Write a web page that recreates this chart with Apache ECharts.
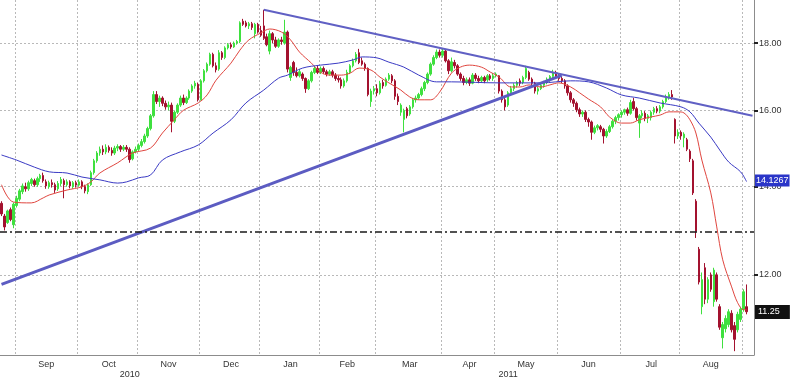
<!DOCTYPE html>
<html>
<head>
<meta charset="utf-8">
<script src="https://cdn.jsdelivr.net/npm/echarts@6/dist/echarts.min.js"></script>
<style>
html,body{margin:0;padding:0;background:#fff;}
#chart{width:790px;height:380px;}
</style>
</head>
<body>
<div id="chart"></div>
<script>
// ---- months on the x axis (trading-day buckets) ----
const monthNames = ['Aug','Sep','Oct','Nov','Dec','Jan','Feb','Mar','Apr','May','Jun','Jul','Aug','Sep'];
const monthYears = [2010,2010,2010,2010,2010,2011,2011,2011,2011,2011,2011,2011,2011,2011];
const monthCounts = [5,21,20,21,20,20,19,22,18,21,21,20,21,4];

// ---- daily OHLC ----
const opens = [13.60,13.30,13.15,13.45,13.10,13.55,13.70,13.88,14.00,13.95,14.08,14.15,14.05,14.20,14.28,14.12,14.00,14.10,14.05,13.95,
14.08,14.15,14.05,14.12,14.00,14.10,14.04,14.12,14.00,13.88,14.05,14.35,14.65,14.85,14.95,14.88,15.00,14.92,14.85,14.98,
15.02,14.95,15.00,14.95,14.70,14.88,14.95,15.05,15.15,15.30,15.50,15.85,16.45,16.25,16.35,16.20,16.10,16.15,15.70,15.95,
16.15,16.35,16.22,16.35,16.55,16.70,16.75,16.30,16.85,17.15,17.35,17.65,17.30,17.20,17.70,17.55,17.85,17.95,17.88,18.00,
18.05,18.70,18.65,18.55,18.62,18.30,18.60,18.40,18.55,18.20,17.75,18.30,18.10,17.90,18.10,18.00,18.35,16.95,17.40,17.10,
17.00,17.05,16.92,16.62,16.85,17.10,17.22,17.10,17.22,17.12,17.05,17.12,17.02,16.92,16.88,16.70,16.85,17.10,17.30,17.45,
17.70,17.45,17.35,17.22,16.25,16.55,16.62,16.50,16.80,16.72,16.90,17.00,16.85,16.40,15.95,15.75,16.05,15.90,16.10,16.30,
16.35,16.45,16.62,16.80,17.05,17.35,17.55,17.72,17.62,17.75,17.45,17.15,17.40,17.30,17.05,16.92,16.80,16.88,16.78,17.02,
16.92,16.85,16.95,16.88,17.00,16.92,17.00,17.00,16.55,16.30,16.15,16.50,16.62,16.72,16.85,16.80,16.95,17.10,16.90,16.78,
16.55,16.62,16.72,16.80,16.90,16.98,17.10,16.98,16.92,16.85,16.70,16.50,16.30,16.20,16.02,15.90,15.95,15.75,15.68,15.40,
15.52,15.55,15.48,15.30,15.42,15.55,15.70,15.80,15.88,15.95,16.02,15.92,16.25,16.05,15.65,15.85,15.92,15.78,15.80,15.95,
16.05,15.98,16.10,16.25,16.38,16.45,15.75,15.30,15.40,15.25,15.20,14.90,14.65,13.65,12.55,11.35,12.15,11.50,12.00,11.45,
12.00,11.35,10.75,10.92,11.00,11.22,10.98,10.90,11.10,11.30,11.35];
const closes = [13.35,13.05,13.42,13.22,13.58,13.72,13.90,14.02,13.95,14.10,14.18,14.05,14.20,14.28,14.15,14.02,14.10,14.05,13.92,14.08,
14.18,14.05,14.12,14.02,14.10,14.04,14.12,14.00,13.90,14.05,14.35,14.65,14.85,14.95,14.88,15.00,14.92,14.85,14.98,15.02,
14.95,15.00,14.95,14.68,14.88,14.95,15.05,15.15,15.30,15.50,15.85,16.45,16.25,16.35,16.20,16.10,16.15,15.70,15.95,16.15,
16.35,16.22,16.35,16.55,16.70,16.78,16.30,16.85,17.15,17.35,17.65,17.30,17.18,17.70,17.55,17.85,17.95,17.88,18.00,18.05,
18.65,18.60,18.55,18.62,18.50,18.60,18.35,18.25,18.15,17.95,18.30,18.10,17.90,18.10,18.05,18.35,17.20,17.25,17.10,17.00,
17.12,16.92,16.62,16.85,17.10,17.22,17.10,17.22,17.12,17.05,17.12,17.02,16.92,16.88,16.70,16.85,17.10,17.30,17.45,17.65,
17.40,17.35,17.22,16.45,16.55,16.62,16.50,16.78,16.70,16.90,17.02,16.85,16.40,16.25,16.15,16.00,15.85,16.10,16.30,16.35,
16.45,16.62,16.80,17.05,17.35,17.55,17.72,17.62,17.75,17.45,17.15,17.42,17.30,17.05,16.92,16.80,16.88,16.78,17.02,16.92,
16.85,16.95,16.85,17.00,16.92,17.00,17.05,16.55,16.30,16.10,16.50,16.62,16.72,16.80,16.78,16.95,17.22,16.90,16.78,16.55,
16.62,16.72,16.80,16.90,16.98,17.10,16.98,16.92,16.85,16.70,16.50,16.30,16.20,16.02,15.90,15.95,15.75,15.68,15.40,15.52,
15.58,15.48,15.30,15.42,15.55,15.70,15.80,15.88,15.95,16.02,15.92,16.22,16.05,15.80,15.85,15.92,15.78,15.85,15.95,16.05,
15.98,16.10,16.25,16.38,16.45,16.38,15.30,15.40,15.30,15.35,14.95,14.70,13.85,12.95,11.85,11.90,11.50,11.90,11.70,12.10,
11.50,10.95,11.00,11.12,11.25,10.90,10.72,11.20,11.30,11.65,11.25];
const lows = [13.30,12.97,13.12,13.18,13.02,13.50,13.65,13.82,13.88,13.90,14.02,14.00,14.00,14.12,14.10,13.95,13.95,13.98,13.85,13.90,
14.02,13.72,14.00,13.96,13.95,13.98,14.00,13.94,13.84,13.82,14.02,14.30,14.60,14.78,14.80,14.82,14.86,14.78,14.80,14.90,
14.88,14.90,14.88,14.60,14.66,14.84,14.90,15.00,15.10,15.25,15.45,15.80,16.18,16.10,16.12,16.02,16.00,15.40,15.65,15.90,
16.10,16.15,16.18,16.30,16.50,16.62,16.25,16.28,16.80,17.10,17.30,17.25,17.10,17.15,17.48,17.50,17.80,17.82,17.85,17.95,
18.00,18.55,18.50,18.45,18.42,18.15,18.30,18.20,18.10,17.90,17.65,18.00,17.85,17.85,17.95,17.95,17.10,16.85,17.00,16.95,
16.95,16.85,16.50,16.58,16.80,17.05,17.05,17.05,17.05,16.98,17.00,16.95,16.85,16.80,16.62,16.65,16.80,17.05,17.25,17.40,
17.35,17.30,17.15,16.40,16.10,16.45,16.40,16.45,16.62,16.68,16.85,16.78,16.30,16.15,15.85,15.40,15.78,15.85,16.05,16.22,
16.30,16.40,16.55,16.75,17.00,17.30,17.50,17.55,17.55,17.40,17.05,17.10,17.22,17.00,16.85,16.72,16.75,16.70,16.75,16.85,
16.78,16.80,16.78,16.82,16.86,16.85,16.95,16.48,16.22,16.00,16.10,16.45,16.55,16.65,16.70,16.75,16.90,16.85,16.70,16.48,
16.45,16.58,16.65,16.75,16.82,16.92,16.92,16.85,16.78,16.62,16.42,16.22,16.10,15.95,15.82,15.82,15.68,15.55,15.20,15.35,
15.45,15.40,15.10,15.25,15.38,15.50,15.62,15.72,15.80,15.88,15.85,15.88,16.00,15.72,15.25,15.78,15.70,15.65,15.72,15.88,
15.92,15.92,16.05,16.20,16.30,16.30,15.10,15.22,15.20,15.00,14.90,14.62,13.80,12.80,11.80,11.20,11.40,11.42,11.65,11.35,
11.45,10.90,10.55,10.85,10.95,10.85,10.50,10.85,11.05,11.25,11.20];
const highs = [13.65,13.35,13.45,13.50,13.62,13.78,13.95,14.08,14.10,14.15,14.22,14.20,14.25,14.32,14.35,14.18,14.15,14.18,14.10,14.14,
14.24,14.20,14.18,14.16,14.14,14.15,14.18,14.16,14.05,14.08,14.40,14.70,14.90,15.02,15.05,15.08,15.05,15.00,15.04,15.08,
15.06,15.06,15.06,15.00,14.92,15.02,15.10,15.22,15.36,15.55,15.90,16.55,16.55,16.42,16.40,16.28,16.25,16.22,16.00,16.20,
16.42,16.45,16.40,16.60,16.75,16.85,16.80,16.90,17.20,17.40,17.70,17.70,17.40,17.78,17.75,17.90,18.00,18.02,18.05,18.10,
18.70,18.78,18.72,18.68,18.68,18.65,18.65,18.55,19.08,18.30,18.40,18.35,18.20,18.15,18.20,18.75,18.40,17.30,17.45,17.25,
17.20,17.10,16.95,16.90,17.15,17.28,17.30,17.28,17.28,17.18,17.18,17.18,17.08,17.00,16.95,16.92,17.18,17.35,17.52,17.72,
17.82,17.55,17.40,17.25,16.62,16.70,16.75,16.85,16.88,16.95,17.08,17.05,16.90,16.48,16.20,16.05,16.10,16.15,16.35,16.42,
16.50,16.68,16.85,17.10,17.40,17.62,17.80,17.80,17.82,17.80,17.50,17.55,17.48,17.35,17.10,17.00,16.95,16.95,17.08,17.08,
17.00,17.00,17.00,17.05,17.05,17.08,17.10,17.02,16.60,16.35,16.55,16.70,16.78,16.85,16.92,17.00,17.30,17.15,16.95,16.82,
16.68,16.78,16.85,16.95,17.02,17.18,17.15,17.05,16.98,16.90,16.75,16.55,16.35,16.25,16.08,16.00,16.00,15.80,15.72,15.58,
15.62,15.60,15.52,15.48,15.60,15.75,15.85,15.92,16.00,16.05,16.08,16.30,16.35,16.10,15.90,16.00,15.98,15.90,16.00,16.10,
16.12,16.15,16.30,16.45,16.52,16.58,15.78,15.48,15.45,15.40,15.25,14.95,14.70,13.70,12.60,12.05,12.25,11.95,12.05,12.15,
12.05,11.40,11.05,11.18,11.30,11.28,11.05,11.25,11.35,11.70,11.80];

// ---- moving averages (read at sampled days) ----
const redMAIdx = [0,4,10,14,16,22,27,30,33,39,44,50,54,58,61,66,69,72,77,80,83,87,90,94,97,100,104,107,110,114,117,120,124,127,130,134,137,140,144,147,151,154,157,161,164,167,171,174,177,181,184,187,191,194,197,201,204,208,211,214,218,221,224,227,229,231,233,235,238,240,242,245,247,249,250];
const redMAVal = [14.05,13.63,13.61,13.73,13.80,13.92,14.00,14.12,14.34,14.60,14.85,14.98,15.38,15.74,16.00,16.21,16.44,16.87,17.38,17.78,18.10,18.32,18.45,18.35,18.10,17.72,17.38,17.11,17.02,17.02,17.08,17.23,17.17,16.96,16.79,16.58,16.38,16.30,16.30,16.52,17.08,17.26,17.32,17.26,17.11,16.96,16.67,16.67,16.73,16.67,16.73,16.79,16.67,16.50,16.32,16.10,15.82,15.65,15.65,15.74,15.82,15.87,15.96,15.96,15.93,15.74,15.38,14.67,13.85,13.05,12.32,11.75,11.43,11.29,11.29];
const blueMAIdx = [0,5,11,16,22,27,33,39,42,46,50,54,60,66,71,77,82,88,93,96,101,107,113,118,121,126,130,135,140,146,151,167,181,191,197,203,208,214,221,228,231,234,238,241,244,248,250];
const blueMAVal = [14.80,14.67,14.49,14.37,14.34,14.24,14.17,14.09,14.12,14.22,14.29,14.67,14.88,15.06,15.38,15.74,16.21,16.58,16.93,17.02,17.23,17.32,17.38,17.48,17.57,17.54,17.41,17.26,17.02,16.82,16.82,16.79,16.79,16.85,16.82,16.64,16.44,16.35,16.21,16.10,15.96,15.65,15.27,14.93,14.62,14.37,14.1267];

// ---- drawn lines ----
const downTrendIdx = [88, 252];
const downTrendVal = [19.08, 15.85];
const upTrendIdx = [0, 188];
const upTrendVal = [11.80, 17.01];
const supportLevel = 12.95;

// ---- y axis ----
const yTicks = [12, 14, 16, 18];
const yMin = 10.43, yMax = 19.41;

// ---------- build ----------
const ln = Math.log;
const cats = [];
const monthStart = new Set();
const monthMid = new Set();
const yearStart = new Set();
const yearMid = new Set();
let k = 0;
monthNames.forEach((m, mi) => {
  const n = monthCounts[mi];
  if (mi > 0) monthStart.add(k);
  if (mi > 0 && mi < monthNames.length - 1) monthMid.add(k + Math.round((n - 1) / 2));
  for (let d = 0; d < n; d++) cats.push(m + '|' + monthYears[mi] + '|' + (d + 1));
  k += n;
});
const years = [...new Set(monthYears)];
years.forEach(y => {
  const first = cats.findIndex(c => c.split('|')[1] === String(y));
  let last = -1; cats.forEach((c, i) => { if (c.split('|')[1] === String(y)) last = i; });
  if (first > 0) yearStart.add(first);
  yearMid.add(Math.round((first + last) / 2));
});

const candleData = opens.map((o, i) => [ln(o), ln(closes[i]), ln(lows[i]), ln(highs[i])]);
const toLine = (idx, val) => idx.map((x, i) => [x, ln(val[i])]);

const FONT = 'Liberation Sans, Arial, sans-serif';
const gridLine = { show: true, lineStyle: { color: '#b9b9b9', type: [2, 2], width: 1 } };
const lastBlue = blueMAVal[blueMAVal.length - 1];
const lastClose = closes[closes.length - 1];

function tagLabel(text, bg, pad) {
  return {
    show: true, position: 'end', distance: 1,
    formatter: text,
    color: '#fff', backgroundColor: bg, padding: pad, fontSize: 9, fontFamily: FONT
  };
}

const chart = echarts.init(document.getElementById('chart'), null, { renderer: 'canvas' });
chart.setOption({
  animation: false,
  backgroundColor: '#fff',
  grid: { left: 0, right: 36, top: 0, bottom: 25 },
  xAxis: [
    {
      type: 'category', data: cats, boundaryGap: true,
      axisLine: { lineStyle: { color: '#8c8c8c' } },
      axisTick: { interval: (i) => monthStart.has(i), length: 3, lineStyle: { color: '#555' } },
      axisLabel: { interval: (i) => monthMid.has(i), formatter: (v) => v.split('|')[0],
        fontSize: 9, color: '#333', margin: 5, fontFamily: FONT },
      splitLine: Object.assign({ interval: (i) => monthStart.has(i) }, gridLine)
    },
    {
      type: 'category', data: cats, boundaryGap: true, position: 'bottom', offset: 12,
      axisLine: { show: false },
      axisTick: { interval: (i) => yearStart.has(i), length: 13, lineStyle: { color: '#777' } },
      axisLabel: { interval: (i) => yearMid.has(i), formatter: (v) => v.split('|')[1],
        fontSize: 9, color: '#333', margin: 3, fontFamily: FONT },
      splitLine: { show: false }
    }
  ],
  yAxis: {
    type: 'value', position: 'right', min: ln(yMin), max: ln(yMax), scale: true,
    axisLine: { show: true, lineStyle: { color: '#8c8c8c' } },
    axisTick: { show: true, customValues: yTicks.map(ln), length: 4, lineStyle: { color: '#222', width: 2 } },
    axisLabel: { customValues: yTicks.map(ln), formatter: (v) => Math.exp(v).toFixed(2),
      fontSize: 9, color: '#333', margin: 5, fontFamily: FONT },
    splitLine: gridLine
  },
  series: [
    {
      type: 'candlestick', data: candleData, barWidth: 2,
      itemStyle: { color: '#3fe03f', color0: '#a3122f', borderColor: '#3fe03f', borderColor0: '#a3122f', borderWidth: 1 },
      markLine: {
        silent: true, symbol: ['none', 'none'], animation: false,
        data: [
          { yAxis: ln(supportLevel), lineStyle: { color: '#1a1a1a', width: 1.5, type: [7, 3, 2, 3] }, label: { show: false } }
        ]
      }
    },
    { type: 'line', data: toLine(redMAIdx, redMAVal), smooth: 0.35, symbol: 'none',
      lineStyle: { color: '#e0463f', width: 1 } },
    { type: 'line', data: toLine(blueMAIdx, blueMAVal), smooth: 0.35, symbol: 'none',
      lineStyle: { color: '#3a3ac4', width: 1 },
      markLine: {
        silent: true, symbol: ['none', 'none'], animation: false,
        lineStyle: { color: 'rgba(0,0,0,0)', width: 0 },
        data: [
          { yAxis: ln(lastBlue), label: tagLabel(lastBlue.toFixed(4), '#2a35c8', [2, 1, 1, 1]) },
          { yAxis: ln(lastClose), label: tagLabel(lastClose.toFixed(2), '#111111', [3, 10, 2, 3]) }
        ]
      }
    },
    { type: 'line', data: toLine(downTrendIdx, downTrendVal), symbol: 'none',
      lineStyle: { color: '#6060c4', width: 2 } },
    { type: 'line', data: toLine(upTrendIdx, upTrendVal), symbol: 'none',
      lineStyle: { color: '#5c5cc2', width: 3 } }
  ]
});
</script>
</body>
</html>
